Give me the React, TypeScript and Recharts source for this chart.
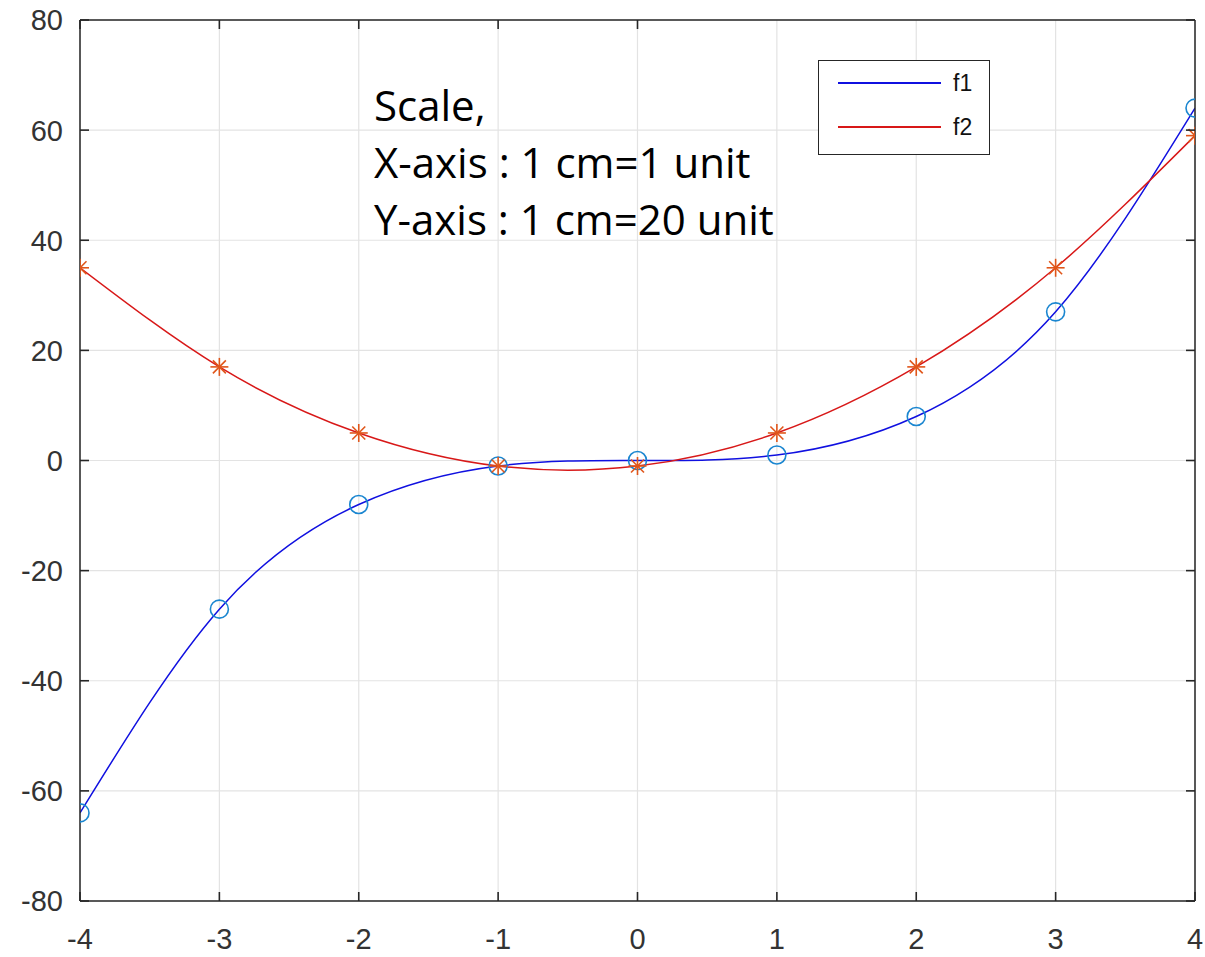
import { LineChart, Line, XAxis, YAxis, CartesianGrid, Legend } from "recharts";

const xValues = [-4, -3, -2, -1, 0, 1, 2, 3, 4];
const f1Values = [-64, -27, -8, -1, 0, 1, 8, 27, 64];
const f2Values = [35, 17, 5, -1, -1, 5, 17, 35, 59];
const xTicks = [-4, -3, -2, -1, 0, 1, 2, 3, 4];
const yTicks = [-80, -60, -40, -20, 0, 20, 40, 60, 80];
const scaleNote = ["Scale,", "X-axis : 1 cm=1 unit", "Y-axis : 1 cm=20 unit"];

const data = xValues.map((x, i) => ({ x, f1: f1Values[i], f2: f2Values[i] }));

const AXIS = "#262626";
const GRID = "#e3e3e3";
const F1_LINE = "#1010e0";
const F1_MARK = "#1a86d0";
const F2_LINE = "#d81818";
const F2_MARK = "#e0561a";
const X_MARGIN = 27;
const Y_MARGIN = 17;
const TICK_LEN = 9;
const tickFont = { fontFamily: "'Liberation Sans', Arial, sans-serif", fontSize: 29, fill: "#333" };

// MATLAB-style ticks point into the plot box
function XTick({ x, y, payload }: any) {
  return (
    <g>
      <line x1={x} x2={x} y1={y - X_MARGIN} y2={y - X_MARGIN - TICK_LEN} stroke={AXIS} strokeWidth={1.6} />
      <text x={x} y={y} dy="0.71em" textAnchor="middle" {...tickFont}>{payload.value}</text>
    </g>
  );
}

function YTick({ x, y, payload }: any) {
  return (
    <g>
      <line x1={x + Y_MARGIN} x2={x + Y_MARGIN + TICK_LEN} y1={y} y2={y} stroke={AXIS} strokeWidth={1.6} />
      <text x={x} y={y} dy="0.36em" textAnchor="end" {...tickFont}>{payload.value}</text>
    </g>
  );
}

function TopTick({ x, y }: any) {
  return <line x1={x} x2={x} y1={y} y2={y + TICK_LEN} stroke={AXIS} strokeWidth={1.6} />;
}

function RightTick({ x, y }: any) {
  return <line x1={x} x2={x - TICK_LEN} y1={y} y2={y} stroke={AXIS} strokeWidth={1.6} />;
}

function CircleDot({ cx, cy }: any) {
  if (cx == null || cy == null) return null;
  return <circle cx={cx} cy={cy} r={9} fill="none" stroke={F1_MARK} strokeWidth={1.6} />;
}

function StarDot({ cx, cy }: any) {
  if (cx == null || cy == null) return null;
  const r = 9;
  const d = r * 0.72;
  return (
    <g stroke={F2_MARK} strokeWidth={1.6}>
      <line x1={cx - r} x2={cx + r} y1={cy} y2={cy} />
      <line x1={cx} x2={cx} y1={cy - r} y2={cy + r} />
      <line x1={cx - d} x2={cx + d} y1={cy - d} y2={cy + d} />
      <line x1={cx - d} x2={cx + d} y1={cy + d} y2={cy - d} />
    </g>
  );
}

function LegendBox({ payload }: any) {
  return (
    <div style={{ width: 172, height: 95, border: `1.5px solid ${AXIS}`, background: "#fff", boxSizing: "border-box" }}>
      {(payload ?? []).map((p: any) => (
        <div key={p.value} style={{ display: "flex", alignItems: "center", height: 44 }}>
          <div style={{ marginLeft: 19, width: 103, height: 0, borderTop: `2px solid ${p.color}` }} />
          <span style={{ marginLeft: 12, fontFamily: "'Liberation Sans', Arial, sans-serif", fontSize: 23, color: "#111" }}>{p.value}</span>
        </div>
      ))}
    </div>
  );
}

export default function App() {
  return (
    <div style={{ position: "absolute", left: 0, top: 0, width: 1205, height: 957, background: "#fff" }}>
      <LineChart width={1205} height={957} data={data} margin={{ top: 20, right: 10, left: 0, bottom: 0 }}>
        <CartesianGrid stroke={GRID} strokeWidth={1.2} />
        <XAxis
          dataKey="x"
          type="number"
          domain={[-4, 4]}
          ticks={xTicks}
          height={56}
          axisLine={{ stroke: AXIS, strokeWidth: 1.5 }}
          tickLine={false}
          tickSize={0}
          tickMargin={X_MARGIN}
          tick={<XTick />}
          allowDataOverflow
        />
        <XAxis
          xAxisId="top"
          orientation="top"
          type="number"
          domain={[-4, 4]}
          ticks={xTicks}
          mirror
          tickSize={0}
          tickMargin={0}
          tickLine={false}
          tick={<TopTick />}
          axisLine={{ stroke: AXIS, strokeWidth: 1.5 }}
          allowDataOverflow
        />
        <YAxis
          type="number"
          domain={[-80, 80]}
          ticks={yTicks}
          width={80}
          axisLine={{ stroke: AXIS, strokeWidth: 1.5 }}
          tickLine={false}
          tickSize={0}
          tickMargin={Y_MARGIN}
          tick={<YTick />}
          allowDataOverflow
        />
        <YAxis
          yAxisId="right"
          orientation="right"
          type="number"
          domain={[-80, 80]}
          ticks={yTicks}
          mirror
          tickSize={0}
          tickMargin={0}
          tickLine={false}
          tick={<RightTick />}
          axisLine={{ stroke: AXIS, strokeWidth: 1.5 }}
          allowDataOverflow
        />
        <Legend
          layout="vertical"
          align="center"
          verticalAlign="middle"
          wrapperStyle={{ left: 818, top: 60, width: 172 }}
          content={<LegendBox />}
        />
        <Line type="natural" dataKey="f1" name="f1" stroke={F1_LINE} strokeWidth={1.5} dot={<CircleDot />} activeDot={false} isAnimationActive={false} />
        <Line type="natural" dataKey="f2" name="f2" stroke={F2_LINE} strokeWidth={1.5} dot={<StarDot />} activeDot={false} isAnimationActive={false} />
      </LineChart>
      <div
        style={{
          position: "absolute",
          left: 374,
          top: 76,
          fontFamily: "'Open Sans', sans-serif",
          fontSize: 42,
          lineHeight: "57px",
          color: "#000",
          whiteSpace: "nowrap",
        }}
      >
        {scaleNote.map((t) => (
          <div key={t}>{t}</div>
        ))}
      </div>
    </div>
  );
}
